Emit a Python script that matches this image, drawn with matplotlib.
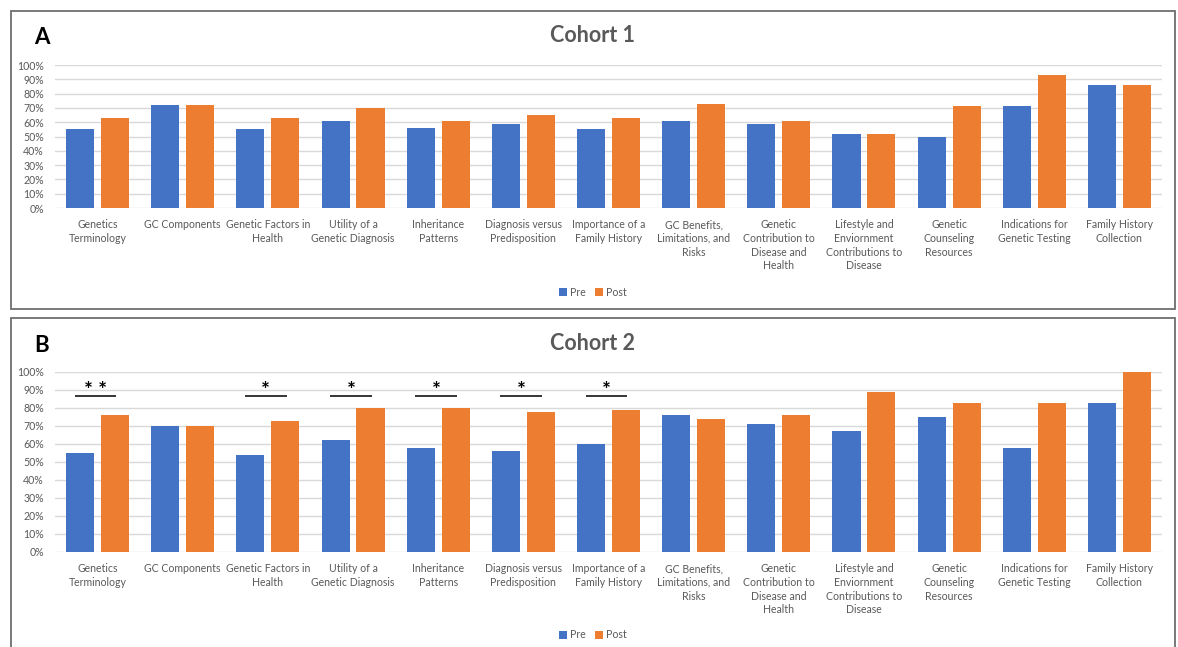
import matplotlib
matplotlib.use("Agg")
import matplotlib.pyplot as plt
from matplotlib.patches import Rectangle
import numpy as np

plt.rcParams['font.family'] = ['Lato', 'DejaVu Sans']

categories = [
    "Genetics\nTerminology",
    "GC Components",
    "Genetic Factors in\nHealth",
    "Utility of a\nGenetic Diagnosis",
    "Inheritance\nPatterns",
    "Diagnosis versus\nPredisposition",
    "Importance of a\nFamily History",
    "GC Benefits,\nLimitations, and\nRisks",
    "Genetic\nContribution to\nDisease and\nHealth",
    "Lifestyle and\nEnviornment\nContributions to\nDisease",
    "Genetic\nCounseling\nResources",
    "Indications for\nGenetic Testing",
    "Family History\nCollection",
]

cohort1_pre = [55, 72, 55, 61, 56, 59, 55, 61, 59, 52, 50, 71, 86]
cohort1_post = [63, 72, 63, 70, 61, 65, 63, 73, 61, 52, 71, 93, 86]

cohort2_pre = [55, 70, 54, 62, 58, 56, 60, 76, 71, 67, 75, 58, 83]
cohort2_post = [76, 70, 73, 80, 80, 78, 79, 74, 76, 89, 83, 83, 100]

# significance markers for cohort 2 (category index -> label)
cohort2_sig_idx = [0, 2, 3, 4, 5, 6]
cohort2_sig_txt = ["**", "*", "*", "*", "*", "*"]

yticks = list(range(0, 101, 10))

W, H = 1178, 647
fig = plt.figure(figsize=(W / 100, H / 100), dpi=100)

BLUE = "#4472C4"
ORANGE = "#ED7D31"
GRID = "#D9D9D9"
TXT = "#595959"


def fx(px):
    return px / W


def fy(py):
    return 1 - py / H


def panel(top_px, zero_px, pre, post, title, letter, legend_y, sig_idx=None, sig_txt=None):
    left, right = 55, 1162
    ax = fig.add_axes([fx(left), fy(zero_px), fx(right - left), (zero_px - top_px) / H])
    x = np.arange(len(categories))
    w = 0.33
    off = 0.205
    b1 = ax.bar(x - off, pre, width=w, color=BLUE, label="Pre", zorder=3)
    b2 = ax.bar(x + off, post, width=w, color=ORANGE, label="Post", zorder=3)
    ax.set_xlim(-0.5, len(categories) - 0.5)
    ax.set_ylim(0, 100)
    ax.set_yticks(yticks)
    ax.set_yticklabels([f"{t}%" for t in yticks])
    ax.set_xticks(x)
    ax.set_xticklabels(categories, fontsize=7.6, color=TXT, linespacing=1.3)
    ax.tick_params(axis='y', labelsize=7.6, labelcolor=TXT, length=0, pad=8)
    ax.tick_params(axis='x', length=0, pad=8)
    ax.grid(axis='y', color=GRID, linewidth=1, zorder=0)
    for s in ax.spines.values():
        s.set_visible(False)
    ax.set_axisbelow(True)

    if sig_idx:
        for i, t in zip(sig_idx, sig_txt):
            ax.plot([i - 0.27, i + 0.22], [86.5, 86.5], color="black", lw=1.1,
                    zorder=4, solid_capstyle='butt', clip_on=False)
            ax.text(i - 0.025, 84.0, " ".join(t), ha='center', va='bottom', fontsize=15,
                    color="black", fontweight='bold', zorder=5)

    fig.text(fx(593), fy(top_px - 29), title, ha='center', va='center',
             fontsize=15.5, fontweight='bold', color=TXT)
    fig.text(fx(34), fy(top_px - 27), letter, ha='left', va='center',
             fontsize=16, fontweight='bold', color="black")
    fig.legend(handles=[b1, b2], loc='center', bbox_to_anchor=(fx(593), fy(legend_y)),
               ncol=2, frameon=False, fontsize=7.6, labelcolor=TXT,
               handlelength=0.7, handleheight=0.7, handletextpad=0.3,
               columnspacing=0.9)
    return ax


panel(65, 208, cohort1_pre, cohort1_post, "Cohort 1", "A", 292)
panel(372, 552, cohort2_pre, cohort2_post, "Cohort 2", "B", 635,
      cohort2_sig_idx, cohort2_sig_txt)

# panel frames
fig.add_artist(Rectangle((fx(11), fy(309)), fx(1175 - 11), (309 - 11) / H,
                         transform=fig.transFigure, fill=False,
                         edgecolor="#6E6E6E", linewidth=1.3))
fig.add_artist(Rectangle((fx(11), fy(665)), fx(1175 - 11), (665 - 318) / H,
                         transform=fig.transFigure, fill=False,
                         edgecolor="#6E6E6E", linewidth=1.3, clip_on=False))

fig.savefig("out.png", dpi=100, facecolor="white")
